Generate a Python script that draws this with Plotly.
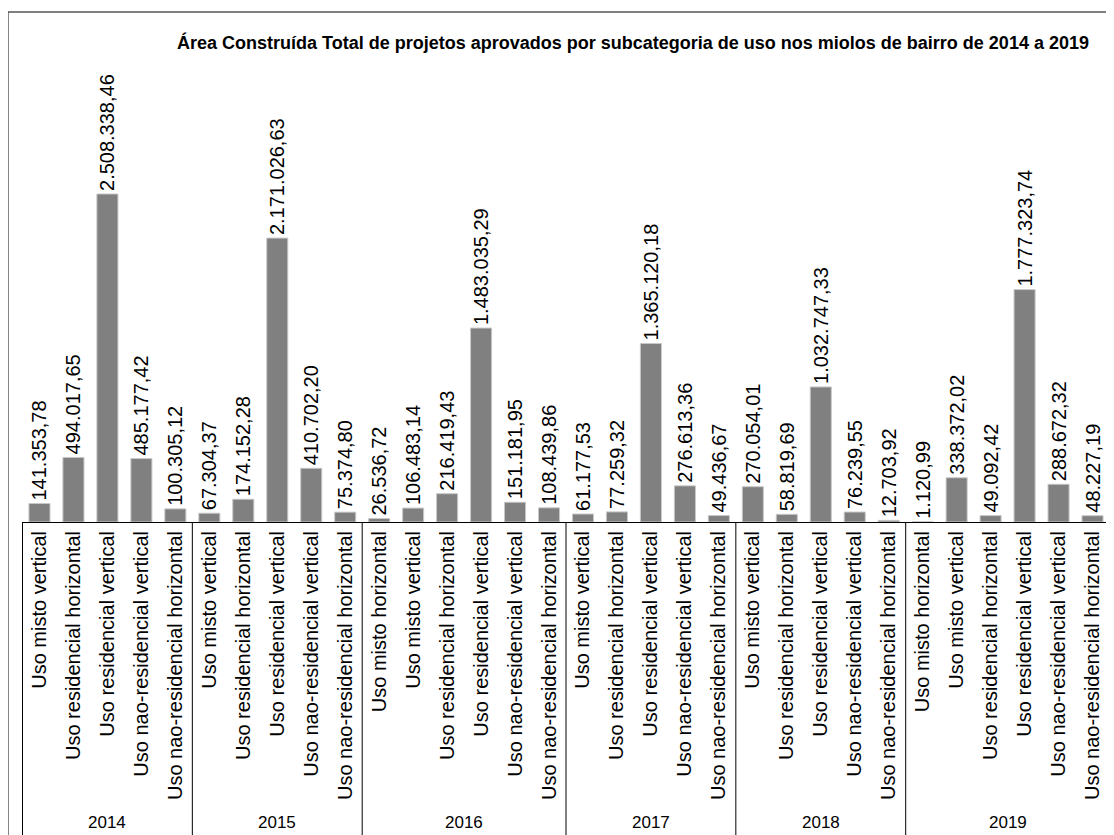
import plotly.graph_objects as go

# Dados
anos = ["2014"] * 5 + ["2015"] * 5 + ["2016"] * 6 + ["2017"] * 5 + ["2018"] * 5 + ["2019"] * 6

subcategorias = [
    # 2014
    "Uso misto vertical", "Uso residencial horizontal", "Uso residencial vertical",
    "Uso nao-residencial vertical", "Uso nao-residencial horizontal",
    # 2015
    "Uso misto vertical", "Uso residencial horizontal", "Uso residencial vertical",
    "Uso nao-residencial vertical", "Uso nao-residencial horizontal",
    # 2016
    "Uso misto horizontal", "Uso misto vertical", "Uso residencial horizontal",
    "Uso residencial vertical", "Uso nao-residencial vertical", "Uso nao-residencial horizontal",
    # 2017
    "Uso misto vertical", "Uso residencial horizontal", "Uso residencial vertical",
    "Uso nao-residencial vertical", "Uso nao-residencial horizontal",
    # 2018
    "Uso misto vertical", "Uso residencial horizontal", "Uso residencial vertical",
    "Uso nao-residencial vertical", "Uso nao-residencial horizontal",
    # 2019
    "Uso misto horizontal", "Uso misto vertical", "Uso residencial horizontal",
    "Uso residencial vertical", "Uso nao-residencial vertical", "Uso nao-residencial horizontal",
]

area_construida = [
    141353.78, 494017.65, 2508338.46, 485177.42, 100305.12,
    67304.37, 174152.28, 2171026.63, 410702.20, 75374.80,
    26536.72, 106483.14, 216419.43, 1483035.29, 151181.95, 108439.86,
    61177.53, 77259.32, 1365120.18, 276613.36, 49436.67,
    270054.01, 58819.69, 1032747.33, 76239.55, 12703.92,
    1120.99, 338372.02, 49092.42, 1777323.74, 288672.32, 48227.19,
]

titulo = "Área Construída Total de projetos aprovados por subcategoria de uso nos miolos de bairro de 2014 a 2019"

fonte = "Liberation Sans, Arial, sans-serif"

# chave única por barra (ano + subcategoria) para manter a ordem original
chaves = [a + " | " + s for a, s in zip(anos, subcategorias)]

fig = go.Figure()
fig.add_trace(go.Bar(
    x=chaves,
    y=area_construida,
    marker=dict(color="#808080", line=dict(color="#c8c8c8", width=1)),
    texttemplate="%{y:,.2f}",
    textposition="outside",
    textangle=-90,
    constraintext="none",
    cliponaxis=False,
    textfont=dict(family=fonte, size=20, color="black"),
    hoverinfo="skip",
))

# grupos por ano: rótulo do ano centralizado e linhas divisórias
grupos = []
for i, a in enumerate(anos):
    if not grupos or grupos[-1][0] != a:
        grupos.append([a, i, i])
    else:
        grupos[-1][2] = i

for ano, ini, fim in grupos:
    fig.add_annotation(x=(ini + fim) / 2, xref="x", y=-0.59, yref="paper",
                       text=ano, showarrow=False, yanchor="middle",
                       font=dict(family=fonte, size=17, color="black"))
    fig.add_shape(type="line", xref="x", yref="paper", x0=ini - 0.5, x1=ini - 0.5,
                  y0=0, y1=-0.62, line=dict(color="black", width=1))
fig.add_shape(type="line", xref="x", yref="paper", x0=len(anos) - 0.5, x1=len(anos) - 0.5,
              y0=0, y1=-0.62, line=dict(color="black", width=1))

# moldura externa
fig.add_shape(type="line", xref="paper", yref="paper",
              x0=-0.0129, x1=1.02, y0=1, y1=1, line=dict(color="#555555", width=1.5))
fig.add_shape(type="line", xref="paper", yref="paper",
              x0=-0.0129, x1=-0.0129, y0=1, y1=-0.7, line=dict(color="#555555", width=1.5))

fig.update_layout(
    width=1114,
    height=835,
    margin=dict(l=14, r=12, t=4, b=321),
    paper_bgcolor="white",
    plot_bgcolor="white",
    separators=",.",
    bargap=0.38,
    showlegend=False,
    font=dict(family=fonte, color="black"),
    title=dict(text="<b>" + titulo + "</b>", xref="paper", x=0.5616, xanchor="center",
               y=1 - 35 / 835, yanchor="middle", font=dict(family=fonte, size=18, color="black")),
    xaxis=dict(
        type="category",
        showline=True, linecolor="black", linewidth=1,
        tickmode="array", tickvals=chaves, ticktext=subcategorias,
        tickangle=-90,
        tickfont=dict(family=fonte, size=20, color="black"),
        ticks="",
        showgrid=False,
        automargin=False,
    ),
    yaxis=dict(visible=False, range=[0, 3.9e6]),
)

fig.write_html("out.html")
